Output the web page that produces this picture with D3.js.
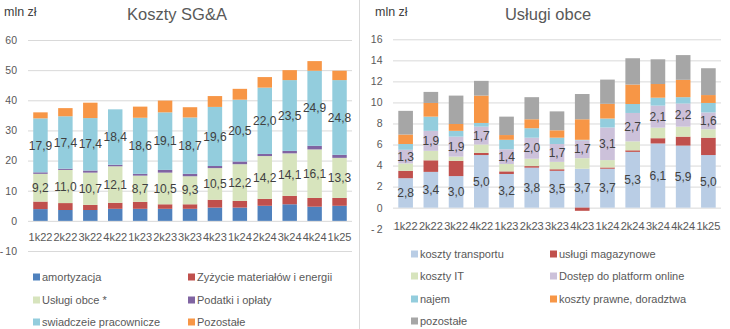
<!DOCTYPE html>
<html>
<head>
<meta charset="utf-8">
<script src="https://cdn.jsdelivr.net/npm/d3@7"></script>
<style>
  body { margin: 0; background: #fff; }
  svg { font-family: "Liberation Sans", Arial, sans-serif; }
  .domain { display: none; }
</style>
</head>
<body>
<div id="chart"></div>
<script>
// kwartały
const kwartaly = ["1k22", "2k22", "3k22", "4k22", "1k23", "2k23", "3k23", "4k23", "1k24", "2k24", "3k24", "4k24", "1k25"];

// Koszty SG&A (mln zł)
const amortyzacja = [3.9, 3.6, 3.6, 4.0, 4.0, 4.0, 4.0, 4.4, 4.4, 5.0, 5.5, 4.7, 5.0];
const zuzycie = [2.5, 2.3, 1.7, 2.0, 2.3, 1.5, 1.5, 2.6, 2.2, 2.3, 2.8, 2.9, 2.6];
const uslugiObce = [9.2, 11.0, 10.7, 12.1, 8.7, 10.5, 9.3, 10.5, 12.2, 14.2, 14.1, 16.1, 13.3];
const podatki = [0.5, 0.4, 0.7, 0.5, 0.6, 0.9, 0.8, 0.7, 0.9, 0.7, 0.8, 1.2, 1.0];
const swiadczenia = [17.9, 17.4, 17.4, 18.4, 18.6, 19.1, 18.7, 19.6, 20.5, 22.0, 23.5, 24.9, 24.8];
const pozostaleSGA = [2.0, 2.7, 5.1, 0, 3.7, 3.9, 3.4, 3.6, 3.6, 3.5, 3.3, 3.2, 3.1];
const ticksSGA = [-10, 0, 10, 20, 30, 40, 50, 60];

// Usługi obce (mln zł)
const transport = [2.8, 3.4, 3.0, 5.0, 3.2, 3.8, 3.5, 3.7, 3.7, 5.3, 6.1, 5.9, 5.0];
const magazyn = [0.7, 1.1, 1.45, 0.2, 0.25, 0.15, 0.15, -0.3, 0.12, 0.15, 0.5, 0.85, 1.65];
const kosztyIT = [0.7, 0.9, 0.4, 0.8, 0.7, 0.7, 0.7, 1.0, 0.7, 0.85, 1.0, 0.95, 0.8];
const platformy = [1.3, 1.9, 1.9, 1.7, 1.4, 2.0, 1.7, 1.7, 3.1, 2.7, 2.1, 2.2, 1.6];
const najem = [0.55, 1.35, 0.55, 0.35, 0.9, 0.9, 0.6, 0.05, 0.85, 0.85, 0.75, 0.6, 0.9];
const prawne = [0.9, 1.3, 0.65, 2.6, 0.45, 0.85, 0.7, 1.95, 1.4, 1.85, 1.3, 1.65, 0.75];
const pozostaleUO = [2.25, 1.05, 2.7, 1.4, 1.75, 2.1, 1.8, 2.4, 2.3, 2.5, 2.35, 2.35, 2.55];
const ticksUO = [-2, 0, 2, 4, 6, 8, 10, 12, 14, 16];

const svg = d3.select("#chart").append("svg").attr("width", 730).attr("height", 329);

// separator between the two charts
svg.append("line")
  .attr("x1", 359.5).attr("x2", 359.5).attr("y1", 0).attr("y2", 329)
  .attr("stroke", "#d9d9d9");

const fmtTick = (d) => (d < 0 ? "-\u2009" + Math.abs(d) : d);
const fmtVal = (d) => d3.format(".1f")(d).replace(".", ",");

function drawChart(cfg) {
  const g = svg.append("g");

  const x = d3.scaleBand()
    .domain(kwartaly)
    .range([cfg.x0, cfg.x1])
    .paddingInner(0.42)
    .paddingOuter(0.21);

  const y = d3.scaleLinear().domain(cfg.domain).range([cfg.yBottom, cfg.yTop]);

  // gridlines + tick labels
  const yAxis = g.append("g")
    .attr("transform", `translate(${cfg.x1},0)`)
    .call(d3.axisLeft(y).tickValues(cfg.ticks).tickSize(cfg.x1 - cfg.x0).tickFormat(fmtTick).tickPadding(cfg.x0 - cfg.tickX));
  yAxis.selectAll("line").attr("stroke", "#d9d9d9");
  yAxis.selectAll("text").attr("fill", "#595959").style("font-size", "10.5px");

  const rows = kwartaly.map((k, i) => {
    const r = { k };
    cfg.series.forEach((s) => (r[s.name] = s.values[i]));
    return r;
  });

  const stacked = d3.stack()
    .keys(cfg.series.map((s) => s.name))
    .offset(d3.stackOffsetDiverging)(rows);

  stacked.forEach((layer, si) => {
    const s = cfg.series[si];
    g.append("g")
      .selectAll("rect")
      .data(layer)
      .enter()
      .append("rect")
      .attr("x", (d) => x(d.data.k))
      .attr("width", x.bandwidth())
      .attr("y", (d) => y(Math.max(d[0], d[1])))
      .attr("height", (d) => Math.abs(y(d[0]) - y(d[1])))
      .attr("fill", s.color);

    if (s.label) {
      g.append("g")
        .selectAll("text")
        .data(layer)
        .enter()
        .append("text")
        .attr("x", (d) => x(d.data.k) + x.bandwidth() / 2)
        .attr("y", (d) => y((d[0] + d[1]) / 2))
        .attr("dy", "0.35em")
        .attr("text-anchor", "middle")
        .attr("fill", "#404040")
        .style("font-size", "12px")
        .text((d) => fmtVal(d[1] - d[0]));
    }
  });

  // category labels
  g.append("g")
    .selectAll("text")
    .data(kwartaly)
    .enter()
    .append("text")
    .attr("x", (d) => x(d) + x.bandwidth() / 2)
    .attr("y", cfg.catY)
    .attr("dy", "0.35em")
    .attr("text-anchor", "middle")
    .attr("fill", "#595959")
    .style("font-size", "11px")
    .text((d) => d);

  // title + unit
  g.append("text")
    .attr("x", cfg.titleX).attr("y", 14).attr("dy", "0.35em")
    .attr("text-anchor", "middle")
    .attr("fill", "#595959")
    .style("font-size", "16.5px")
    .text(cfg.title);

  g.append("text")
    .attr("x", cfg.unitX).attr("y", 12).attr("dy", "0.35em")
    .attr("fill", "#404040")
    .style("font-size", "12.5px")
    .text("mln zł");

  // legend
  const leg = g.append("g")
    .selectAll("g")
    .data(cfg.series)
    .enter()
    .append("g")
    .attr("transform", (d, i) => `translate(${cfg.legCols[i % 2]},${cfg.legRows[Math.floor(i / 2)]})`);

  leg.append("rect")
    .attr("x", 0).attr("y", -3.5).attr("width", 7).attr("height", 7)
    .attr("fill", (d) => d.color);

  leg.append("text")
    .attr("x", 9).attr("dy", "0.35em")
    .attr("fill", "#595959")
    .style("font-size", "11px")
    .text((d) => d.legend);
}

drawChart({
  title: "Koszty SG&A",
  titleX: 177,
  unitX: 4,
  x0: 28,
  x1: 352,
  tickX: 17,
  domain: [-10, 60],
  yBottom: 251,
  yTop: 40,
  ticks: ticksSGA,
  catY: 237,
  legCols: [33, 188],
  legRows: [277, 300, 322],
  series: [
    { name: "am", values: amortyzacja, color: "#4f81bd", legend: "amortyzacja" },
    { name: "zu", values: zuzycie, color: "#c0504d", legend: "Zyżycie materiałów i energii" },
    { name: "uo", values: uslugiObce, color: "#d7e4bd", legend: "Usługi obce *", label: true },
    { name: "po", values: podatki, color: "#8064a2", legend: "Podatki i opłaty" },
    { name: "sw", values: swiadczenia, color: "#93cddd", legend: "swiadczeie pracownicze", label: true },
    { name: "pz", values: pozostaleSGA, color: "#f79646", legend: "Pozostałe" }
  ]
});

drawChart({
  title: "Usługi obce",
  titleX: 548,
  unitX: 375,
  x0: 393,
  x1: 721,
  tickX: 382.5,
  domain: [-2, 16],
  yBottom: 228.7,
  yTop: 39.3,
  ticks: ticksUO,
  catY: 226,
  legCols: [411, 550],
  legRows: [254, 276, 299, 321],
  series: [
    { name: "tr", values: transport, color: "#b9cde5", legend: "koszty transportu", label: true },
    { name: "mg", values: magazyn, color: "#c0504d", legend: "usługi magazynowe" },
    { name: "it", values: kosztyIT, color: "#d7e4bd", legend: "koszty IT" },
    { name: "pl", values: platformy, color: "#ccc1da", legend: "Dostęp do platform online", label: true },
    { name: "nj", values: najem, color: "#93cddd", legend: "najem" },
    { name: "pr", values: prawne, color: "#f79646", legend: "koszty prawne, doradztwa" },
    { name: "pz", values: pozostaleUO, color: "#a6a6a6", legend: "pozostałe" }
  ]
});
</script>
</body>
</html>
